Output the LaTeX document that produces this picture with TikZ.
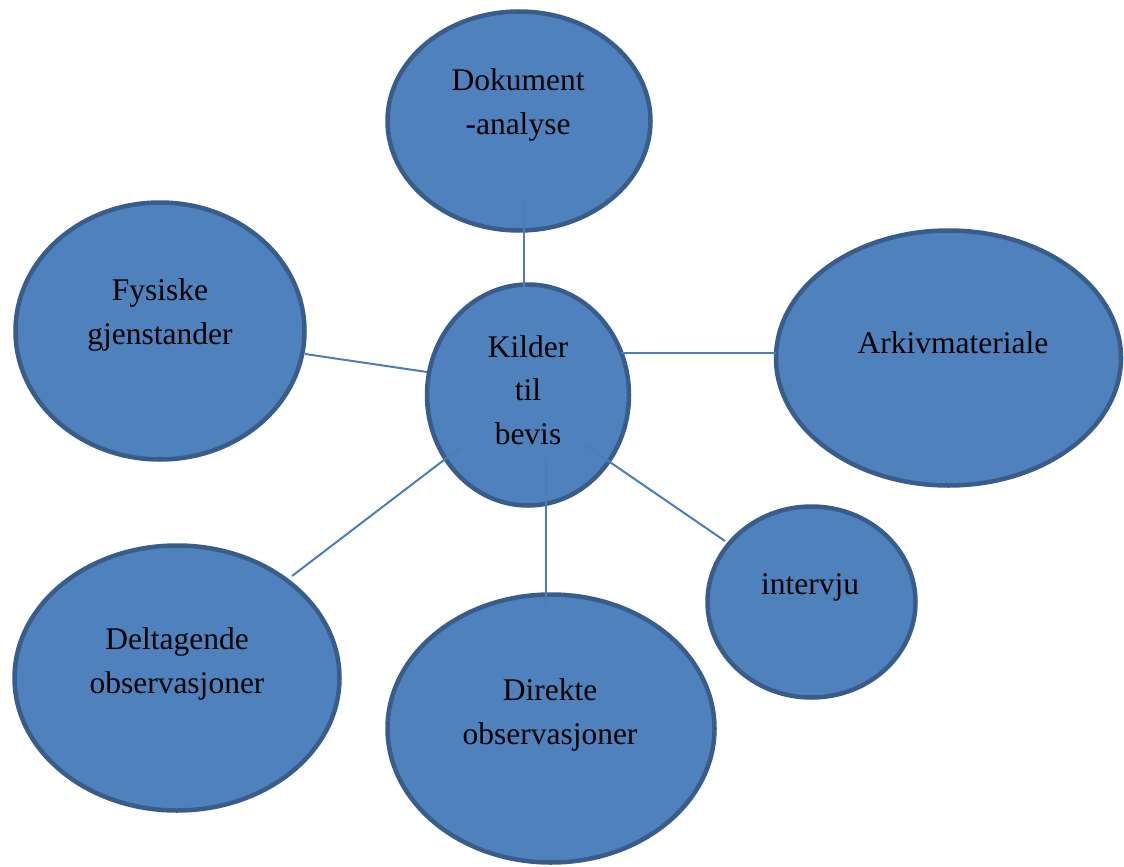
\documentclass[tikz,border=0pt]{standalone}
\usepackage{fontspec}
\setmainfont{LiberationSerif-Regular.ttf}
\usetikzlibrary{shapes.geometric}
\definecolor{bubblefill}{HTML}{4F81BD}
\definecolor{bubbleedge}{HTML}{385D8A}
\definecolor{linkcol}{HTML}{4A7EBB}
\tikzset{
  bubble/.style={ellipse, draw=bubbleedge, fill=bubblefill, line width=4.5pt, inner sep=0pt},
  lbl/.style={align=center, text=black, font=\fontsize{31.5}{43.5}\selectfont, inner sep=0pt},
  link/.style={draw=linkcol, line width=2pt}
}
\begin{document}
\begin{tikzpicture}[x=1pt,y=-1pt]
\useasboundingbox (0,0) rectangle (1124,867);
% bubbles
\node[bubble, minimum width=263pt, minimum height=219pt] (dok) at (519,121) {};
\node[bubble, minimum width=289pt, minimum height=257pt] (fys) at (160,331) {};
\node[bubble, minimum width=202pt, minimum height=221pt] (kil) at (528,395) {};
\node[bubble, minimum width=345pt, minimum height=255pt] (ark) at (948.5,358) {};
\node[bubble, minimum width=208pt, minimum height=191pt] (int) at (811.5,602) {};
\node[bubble, minimum width=325pt, minimum height=265pt] (del) at (177,678) {};
\node[bubble, minimum width=327pt, minimum height=268pt] (dir) at (551,728.5) {};
% labels
\node[lbl] (dokT) at (518,105) {Dokument\\-analyse};
\node[lbl] (fysT) at (160,315) {Fysiske\\gjenstander};
\node[lbl] (kilT) at (528,390) {Kilder\\til\\bevis};
\node[lbl] (arkT) at (953,343) {Arkivmateriale};
\node[lbl] (intT) at (810,587) {intervju};
\node[lbl] (delT) at (177,664) {Deltagende\\observasjoner};
\node[lbl] (dirT) at (550,715) {Direkte\\observasjoner};
% connector end points
\coordinate (c1a) at (524,203); \coordinate (c1b) at (524,287);
\coordinate (c2a) at (305,354); \coordinate (c2b) at (427,372);
\coordinate (c3a) at (461,447); \coordinate (c3b) at (292,576);
\coordinate (c4a) at (546,459); \coordinate (c4b) at (546,605);
\coordinate (c5a) at (585,445); \coordinate (c5b) at (725,541);
\coordinate (c6a) at (621,353); \coordinate (c6b) at (776,353);
% connectors
\draw[link] (c1a) -- (c1b);
\draw[link] (c2a) -- (c2b);
\draw[link] (c3a) -- (c3b);
\draw[link] (c4a) -- (c4b);
\draw[link] (c5a) -- (c5b);
\draw[link] (c6a) -- (c6b);
\end{tikzpicture}
\end{document}
